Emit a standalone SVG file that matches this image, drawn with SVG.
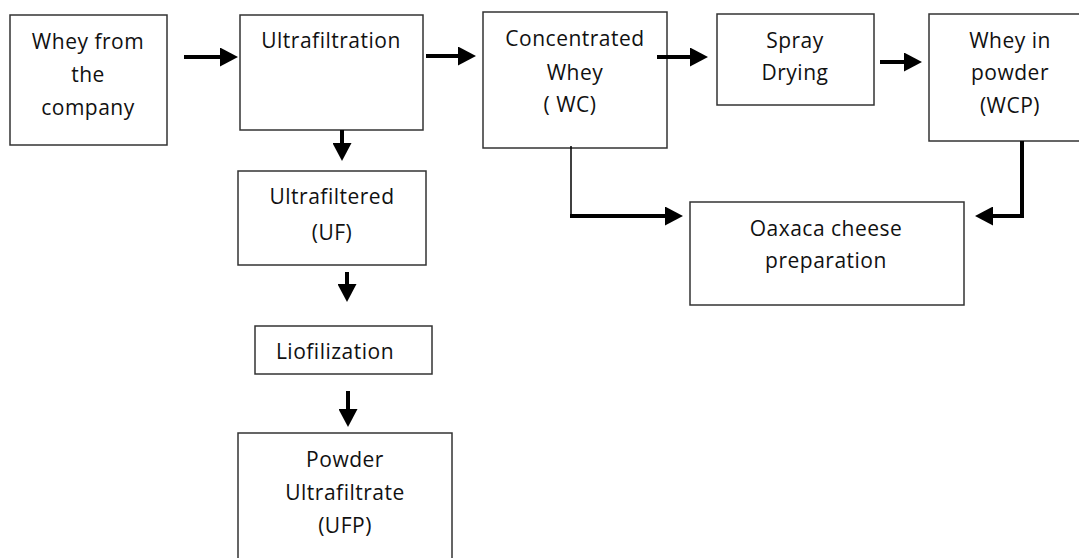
<svg xmlns="http://www.w3.org/2000/svg" width="1079" height="558" viewBox="0 0 1079 558">
<defs>
<style>
.box{fill:#fff;stroke:#333;stroke-width:1.5}
.t{font-family:"Open Sans","Liberation Sans",sans-serif;font-size:21px;letter-spacing:0.5px;fill:#111;text-anchor:middle}
.a{fill:none;stroke:#000;stroke-width:4}
.thin{fill:none;stroke:#000;stroke-width:1.5}
</style>
<marker id="ah" markerUnits="userSpaceOnUse" markerWidth="18" markerHeight="19" refX="0" refY="9.5" orient="auto">
<path d="M0,0 L18,9.5 L0,19 z" fill="#000"/>
</marker>
</defs>
<rect width="1079" height="558" fill="#fff"/>
<g id="n-whey">
<rect class="box" x="10" y="15" width="157" height="130"/>
<text class="t" x="88" y="49">Whey from</text>
<text class="t" x="88" y="82">the</text>
<text class="t" x="88" y="115">company</text>
</g>
<g id="n-ultrafiltration">
<rect class="box" x="240" y="15" width="183" height="115"/>
<text class="t" x="331" y="48">Ultrafiltration</text>
</g>
<g id="n-wc">
<rect class="box" x="483" y="12" width="184" height="136"/>
<text class="t" x="575" y="46">Concentrated</text>
<text class="t" x="575" y="80">Whey</text>
<text class="t" x="570" y="112">( WC)</text>
</g>
<g id="n-spray">
<rect class="box" x="717" y="14" width="157" height="91"/>
<text class="t" x="795" y="48">Spray</text>
<text class="t" x="795" y="80">Drying</text>
</g>
<g id="n-wcp">
<rect class="box" x="929" y="14" width="160" height="127"/>
<text class="t" x="1010" y="48">Whey in</text>
<text class="t" x="1010" y="80">powder</text>
<text class="t" x="1010" y="113">(WCP)</text>
</g>
<g id="n-oaxaca">
<rect class="box" x="690" y="202" width="274" height="103"/>
<text class="t" x="826" y="236">Oaxaca cheese</text>
<text class="t" x="826" y="268">preparation</text>
</g>
<g id="n-uf">
<rect class="box" x="238" y="171" width="188" height="94"/>
<text class="t" x="332" y="204">Ultrafiltered</text>
<text class="t" x="332" y="240">(UF)</text>
</g>
<g id="n-lio">
<rect class="box" x="255" y="326" width="177" height="48"/>
<text class="t" x="335" y="359">Liofilization</text>
</g>
<g id="n-ufp">
<rect class="box" x="238" y="433" width="214" height="140"/>
<text class="t" x="345" y="467">Powder</text>
<text class="t" x="345" y="500">Ultrafiltrate</text>
<text class="t" x="345" y="533">(UFP)</text>
</g>
<g id="connectors">
<path class="a" d="M184,57 H220" marker-end="url(#ah)"/>
<path class="a" d="M426,56 H458" marker-end="url(#ah)"/>
<path class="a" d="M342,130 V143" marker-end="url(#ah)"/>
<path class="a" d="M347,272 V284" marker-end="url(#ah)"/>
<path class="a" d="M348,391 V409" marker-end="url(#ah)"/>
<path class="a" d="M657,57 H690" marker-end="url(#ah)"/>
<path class="a" d="M880,62 H904" marker-end="url(#ah)"/>
<path class="a" d="M1022,141 V216 H993" marker-end="url(#ah)"/>
<path class="thin" d="M571,146 V216"/>
<path class="a" d="M570,216 H665" marker-end="url(#ah)"/>
</g>
</svg>
